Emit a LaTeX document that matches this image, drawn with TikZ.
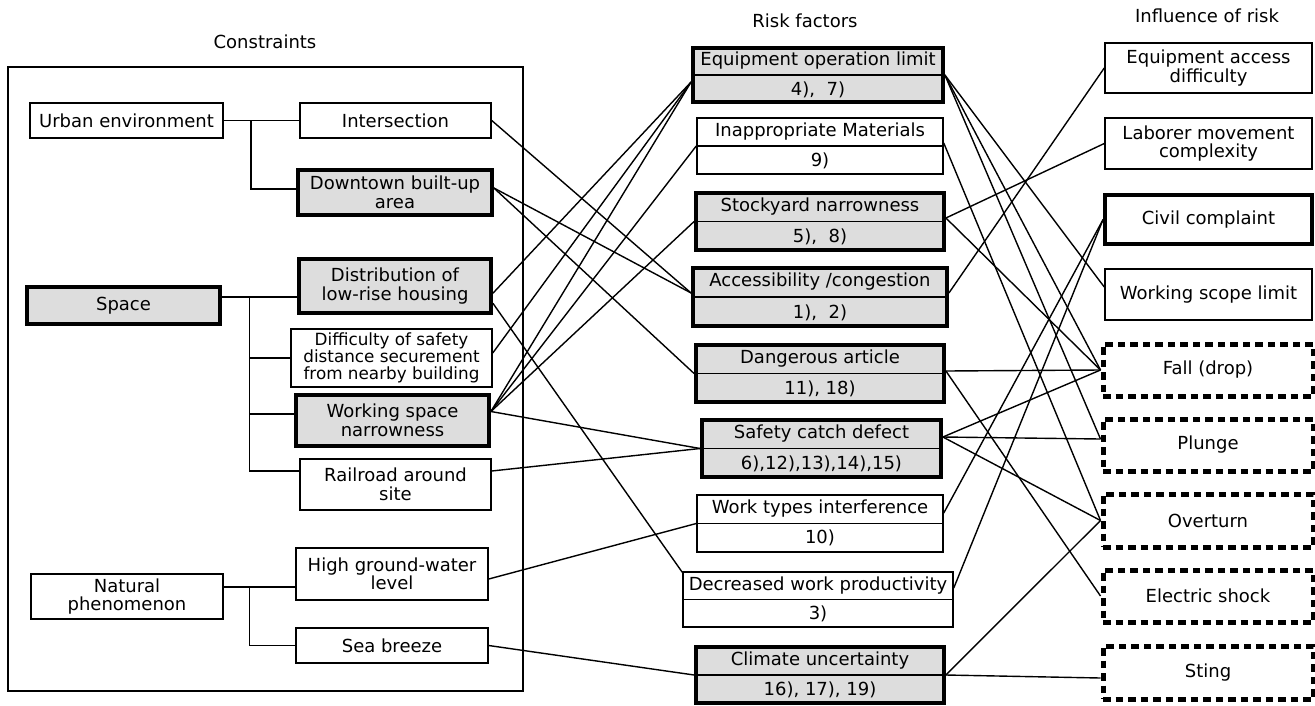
\documentclass[tikz,border=0pt]{standalone}
\usepackage{fontspec}
\setmainfont{DejaVu Sans}
\usetikzlibrary{calc}
\definecolor{boxgray}{RGB}{221,221,221}
\begin{document}
\begin{tikzpicture}[x=1pt,y=-1pt,
  every node/.style={font=\fontsize{18}{18.5}\selectfont, align=center, inner sep=1pt},
  thinbox/.style={draw, line width=1.5pt, fill=white},
  thickbox/.style={draw, line width=3.8pt, fill=boxgray},
  thickwhite/.style={draw, line width=3.8pt, fill=white},
  dashbox/.style={draw, line width=5pt, dash pattern=on 7.5pt off 5pt, fill=white},
  divline/.style={line width=1.5pt},
  conn/.style={line width=1.4pt},
  tree/.style={line width=1.5pt}
]
\useasboundingbox (0,0) rectangle (1315,705);

% titles
\node (tcon) at (265,42) {Constraints};
\node (trisk) at (805,21) {Risk factors};
\node (tinf) at (1207,16) {Influence of risk};

% constraints frame
\node[draw, line width=1.5pt, minimum width=515, minimum height=624] (frame) at (265.5,379) {};

% left boxes
\node[thinbox, minimum width=193, minimum height=35] (urban) at (126.5,120.5) {Urban environment};
\node[thinbox, minimum width=191, minimum height=35] (int) at (395.5,120.5) {Intersection};
\node[thickbox, minimum width=194, minimum height=45] (down) at (395,192.5) {Downtown built-up\\area};
\node[thickbox, minimum width=193, minimum height=37] (space) at (123.5,305.5) {Space};
\node[thickbox, minimum width=192, minimum height=54] (dist) at (395,286.25) {Distribution of\\low-rise housing};
\node[thinbox, minimum width=201, minimum height=58, font=\fontsize{16.8}{17.3}\selectfont] (diff) at (391.5,358) {Difficulty of safety\\distance securement\\from nearby building};
\node[thickbox, minimum width=193, minimum height=51] (wsn) at (392.5,420.5) {Working space\\narrowness};
\node[thinbox, minimum width=191, minimum height=51] (rail) at (395.5,484.5) {Railroad around\\site};
\node[thinbox, minimum width=192, minimum height=45] (nat) at (127,596.5) {Natural\\phenomenon};
\node[thinbox, minimum width=192, minimum height=52] (hgw) at (392,574) {High ground-water\\level};
\node[thinbox, minimum width=192, minimum height=35] (sea) at (392,645.5) {Sea breeze};

% tree connectors
\coordinate (uj) at (251,120.5);
\coordinate (sj) at (249.5,297);
\coordinate (nj) at (249.5,587);
\draw[tree] (urban.east) -- (int.west);
\draw[tree] (uj) |- ([yshift=3.5pt]down.west);
\draw[tree] ([yshift=8.5pt]space.east) -- (dist.west |- sj);
\draw[tree] (sj) |- (diff.west);
\draw[tree] (sj) |- ([yshift=6.5pt]wsn.west);
\draw[tree] (sj) |- ([yshift=13.5pt]rail.west);
\draw[tree] ([yshift=9.5pt]nat.east) -- (hgw.west |- nj);
\draw[tree] (nj) |- (sea.west);

% risk factor boxes
\node[thickbox, minimum width=250, minimum height=54] (eq) at (818,75) {};
\draw[divline] (eq.west) -- (eq.east);
\node (eqT) at ($(eq.center)!0.5!(eq.north)$) {Equipment operation limit};
\node (eqB) at ($(eq.center)!0.5!(eq.south)$) {4),~~7)};

\node[thinbox, minimum width=246, minimum height=56] (inap) at (820,146) {};
\draw[divline] (inap.west) -- (inap.east);
\node (inapT) at ($(inap.center)!0.5!(inap.north)$) {Inappropriate Materials};
\node (inapB) at ($(inap.center)!0.5!(inap.south)$) {9)};

\node[thickbox, minimum width=248, minimum height=57] (stock) at (820,221.5) {};
\draw[divline] (stock.west) -- (stock.east);
\node (stockT) at ($(stock.center)!0.5!(stock.north)$) {Stockyard narrowness};
\node (stockB) at ($(stock.center)!0.5!(stock.south)$) {5),~~8)};

\node[thickbox, minimum width=254, minimum height=58] (acc) at (820,297) {};
\draw[divline] (acc.west) -- (acc.east);
\node (accT) at ($(acc.center)!0.5!(acc.north)$) {Accessibility /congestion};
\node (accB) at ($(acc.center)!0.5!(acc.south)$) {1),~~2)};

\node[thickbox, minimum width=248, minimum height=57] (dang) at (820,373.5) {};
\draw[divline] (dang.west) -- (dang.east);
\node (dangT) at ($(dang.center)!0.5!(dang.north)$) {Dangerous article};
\node (dangB) at ($(dang.center)!0.5!(dang.south)$) {11), 18)};

\node[thickbox, minimum width=239, minimum height=57] (safe) at (821.5,448.5) {};
\draw[divline] (safe.west) -- (safe.east);
\node (safeT) at ($(safe.center)!0.5!(safe.north)$) {Safety catch defect};
\node (safeB) at ($(safe.center)!0.5!(safe.south)$) {6),12),13),14),15)};

\node[thinbox, minimum width=246, minimum height=57] (work) at (820,523.5) {};
\draw[divline] (work.west) -- (work.east);
\node (workT) at ($(work.center)!0.5!(work.north)$) {Work types interference};
\node (workB) at ($(work.center)!0.5!(work.south)$) {10)};

\node[thinbox, minimum width=270, minimum height=55] (decr) at (818,599.5) {};
\draw[divline] (decr.west) -- (decr.east);
\node (decrT) at ($(decr.center)!0.5!(decr.north)$) {Decreased work productivity};
\node (decrB) at ($(decr.center)!0.5!(decr.south)$) {3)};

\node[thickbox, minimum width=248, minimum height=56] (clim) at (820,675) {};
\draw[divline] (clim.west) -- (clim.east);
\node (climT) at ($(clim.center)!0.5!(clim.north)$) {Climate uncertainty};
\node (climB) at ($(clim.center)!0.5!(clim.south)$) {16), 17), 19)};

% influence boxes
\node[thinbox, minimum width=207, minimum height=50] (eqacc) at (1208.5,68) {Equipment access\\difficulty};
\node[thinbox, minimum width=207, minimum height=51] (lab) at (1208.5,143.5) {Laborer movement\\complexity};
\node[thickwhite, minimum width=207, minimum height=49] (civ) at (1208.5,219.5) {Civil complaint};
\node[thinbox, minimum width=207, minimum height=51] (wsl) at (1208.5,294.5) {Working scope limit};
\node[dashbox, minimum width=210, minimum height=52] (fall) at (1208,370) {Fall (drop)};
\node[dashbox, minimum width=210, minimum height=52] (plunge) at (1208,445) {Plunge};
\node[dashbox, minimum width=210, minimum height=53] (over) at (1208,520.5) {Overturn};
\node[dashbox, minimum width=210, minimum height=52] (elec) at (1208,596) {Electric shock};
\node[dashbox, minimum width=210, minimum height=53] (sting) at (1208,672.5) {Sting};

% constraints -> risk factors
\draw[conn] (int.east) -- ([yshift=4pt]acc.west);
\draw[conn] ([yshift=4.5pt]down.east) -- ([yshift=4pt]acc.west);
\draw[conn] ([yshift=4.5pt]down.east) -- (dang.west);
\draw[conn] ([yshift=-7pt]dist.east) -- ([yshift=-7pt]eq.west);
\draw[conn] ([yshift=-17pt]dist.east) -- ([yshift=-1pt]decr.north west);
\draw[conn] ([yshift=5pt]diff.east) -- ([yshift=-7pt]eq.west);
\draw[conn] ([yshift=9pt]wsn.east) -- ([yshift=-7pt]eq.west);
\draw[conn] ([yshift=9pt]wsn.east) -- (inap.west);
\draw[conn] ([yshift=9pt]wsn.east) -- (stock.west);
\draw[conn] ([yshift=9pt]wsn.east) -- (safe.west);
\draw[conn] ([yshift=13.5pt]rail.east) -- (safe.west);
\draw[conn] ([yshift=-5pt]hgw.east) -- (work.west);
\draw[conn] (sea.east) -- (clim.west);

% risk factors -> influence
\draw[conn] (eq.east) -- ([yshift=7.5pt]wsl.west);
\draw[conn] (eq.east) -- (fall.west);
\draw[conn] (eq.east) -- ([yshift=6pt]plunge.west);
\draw[conn] ([yshift=3pt]inap.east) -- (over.west);
\draw[conn] ([yshift=3.5pt]stock.east) -- (lab.west);
\draw[conn] ([yshift=3.5pt]stock.east) -- (fall.west);
\draw[conn] ([yshift=4pt]acc.east) -- (eqacc.west);
\draw[conn] ([yshift=2.5pt]dang.east) -- (fall.west);
\draw[conn] ([yshift=2.5pt]dang.east) -- (elec.west);
\draw[conn] ([yshift=11.5pt]safe.east) -- (fall.west);
\draw[conn] ([yshift=11.5pt]safe.east) -- ([yshift=6pt]plunge.west);
\draw[conn] ([yshift=11.5pt]safe.east) -- (over.west);
\draw[conn] ([yshift=10.5pt]work.east) -- (civ.west);
\draw[conn] ([yshift=11.5pt]decr.east) -- (civ.west);
\draw[conn] (clim.east) -- (over.west);
\draw[conn] (clim.east) -- ([yshift=-5.5pt]sting.west);
\end{tikzpicture}
\end{document}
